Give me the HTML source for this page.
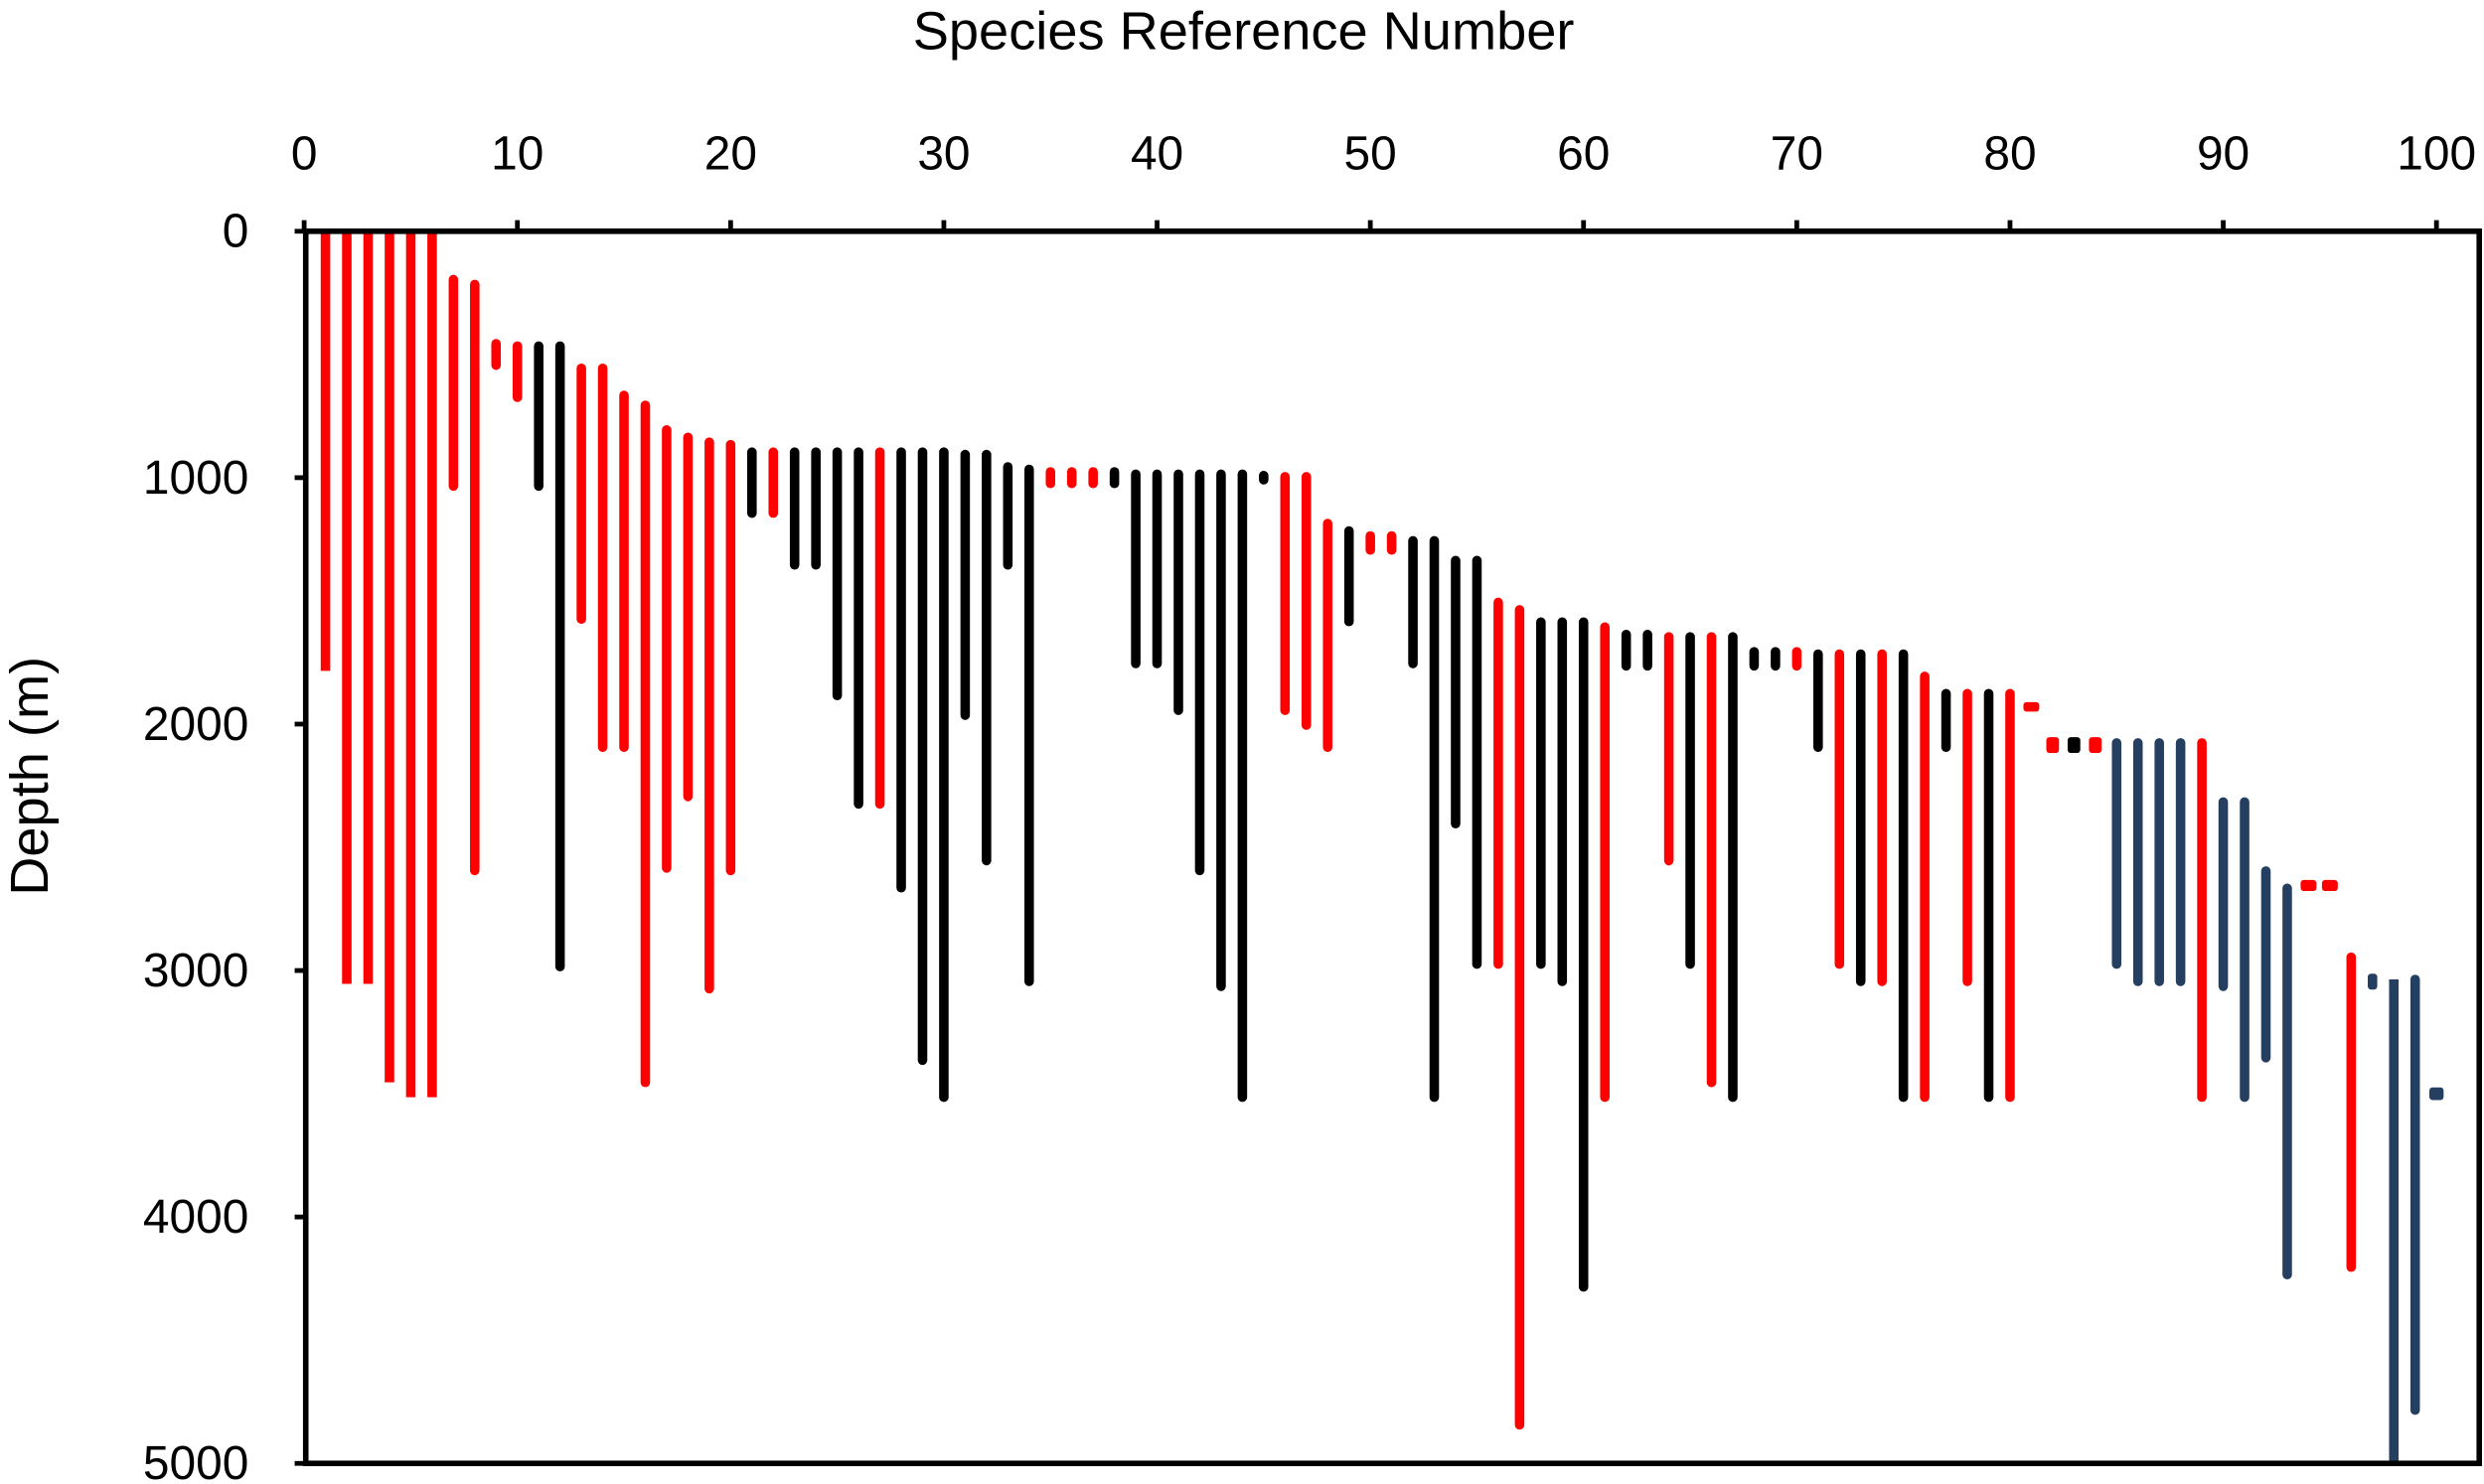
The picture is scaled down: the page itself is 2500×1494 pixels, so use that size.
<!DOCTYPE html>
<html><head><meta charset="utf-8"><style>
html,body{margin:0;padding:0;background:#fff;}
svg{display:block;}
text{font-family:"Liberation Sans",sans-serif;fill:#000;}
</style></head><body>
<svg id="s" xmlns="http://www.w3.org/2000/svg" width="2500" height="1494" viewBox="0 0 1568 937">
<rect x="0" y="0" width="1568" height="937" fill="#fff"/>
<g id="bars"></g>
<rect x="193" y="146" width="1372" height="778" fill="none" stroke="#000" stroke-width="3.5"/>
<g id="ticks" stroke="#000" stroke-width="3"></g>
<g id="labels" font-size="30"></g>
<text x="785" y="31" font-size="34" text-anchor="middle">Species Reference Number</text>
<text transform="translate(30,490) rotate(-90)" font-size="34" text-anchor="middle">Depth (m)</text>
</svg>
<script>
var R="#ff0000",K="#000000",N="#243f60";
var d=[
[1,0,1800,R],[2,0,3070,R],[3,0,3070,R],[4,0,3470,R],[5,0,3530,R],[6,0,3530,R],
[7,180,1050,R],[8,200,2610,R],[9,450,550,R],[10,450,690,R],[11,450,1050,K],[12,450,3000,K],
[13,540,1590,R],[14,540,2110,R],[15,650,2110,R],[16,690,3470,R],[17,790,2600,R],[18,820,2310,R],
[19,840,3090,R],[20,850,2610,R],[21,880,1160,K],[22,880,1160,R],[23,880,1370,K],[24,880,1370,K],
[25,880,1900,K],[26,880,2340,K],[27,880,2340,R],[28,880,2680,K],[29,880,3380,K],[30,880,3530,K],
[31,890,1980,K],[32,890,2570,K],[33,940,1370,K],[34,950,3060,K],[35,970,1030,R],[36,970,1030,R],
[37,970,1030,R],[38,970,1030,K],[39,970,1770,K],[40,970,1770,K],[41,970,1960,K],[42,970,2610,K],
[43,970,3080,K],[44,970,3530,K],[45,985,1015,K],[46,980,1960,R],[47,980,2020,R],[48,1170,2110,R],
[49,1200,1600,K],[50,1230,1300,R],[51,1230,1300,R],[52,1240,1770,K],[53,1240,3530,K],[54,1320,2420,K],
[55,1320,2990,K],[56,1490,2990,R],[57,1520,4860,R],[58,1570,2990,K],[59,1570,3060,K],[60,1570,4300,K],
[61,1590,3530,R],[62,1630,1770,K],[63,1630,1770,K],[64,1630,2570,R],[65,1630,2990,K],[66,1630,3470,R],
[67,1630,3530,K],[68,1700,1770,K],[69,1700,1770,K],[70,1700,1770,R],[71,1700,2110,K],[72,1700,2990,R],
[73,1700,3060,K],[74,1700,3060,R],[75,1700,3530,K],[76,1790,3530,R],[77,1860,2110,K],[78,1860,3060,R],
[79,1860,3530,K],[80,1860,3530,R],
[85,2060,2990,N],[86,2060,3060,N],[87,2060,3060,N],[88,2060,3060,N],[89,2060,3530,R],[90,2300,3080,N],
[91,2300,3530,N],[92,2580,3370,N],[93,2650,4250,N],[96,2930,4220,R],
[98,3020,5000,N],[99,3020,4800,N]];
// small rect markers: idx, center depth, w, h, color
var sq=[[81,1930,10,6,R],[82,2085,8,10,R],[83,2085,8,10,K],[84,2085,8,10,R],[94,2655,10,7,R],[95,2655,10,7,R],[97,3045,6,10,N],[100,3500,9,8,N]];
function X(i){return 192+13.46*i;}
function Y(v){return 146+0.1556*v;}
var ns="http://www.w3.org/2000/svg",g=document.getElementById("bars");
d.forEach(function(r){
 var l=document.createElementNS(ns,"line");
 var y1=Y(r[1]),y2=Y(r[2]);
 if(r[2]-r[1]>200){ if(r[1]>0)y1+=2.5; if(r[2]<5000)y2-=2.5; }
 else { y1+=1; y2-=1; }
 l.setAttribute("x1",X(r[0]));l.setAttribute("x2",X(r[0]));
 l.setAttribute("y1",y1);l.setAttribute("y2",y2);
 l.setAttribute("stroke",r[3]);l.setAttribute("stroke-width",6);
 l.setAttribute("stroke-linecap",r[1]==0||r[2]==5000?"butt":"round");
 g.appendChild(l);
});
sq.forEach(function(s){
 var r=document.createElementNS(ns,"rect");
 r.setAttribute("x",X(s[0])-s[2]/2);r.setAttribute("y",Y(s[1])-s[3]/2);
 r.setAttribute("width",s[2]);r.setAttribute("height",s[3]);r.setAttribute("rx",2);
 r.setAttribute("fill",s[4]);g.appendChild(r);
});
var t=document.getElementById("ticks"),lb=document.getElementById("labels");
for(var i=0;i<=100;i+=10){
 var l=document.createElementNS(ns,"line");l.setAttribute("x1",X(i));l.setAttribute("x2",X(i));
 l.setAttribute("y1",139);l.setAttribute("y2",146);t.appendChild(l);
 var tx=document.createElementNS(ns,"text");tx.setAttribute("x",X(i));tx.setAttribute("y",107);
 tx.setAttribute("text-anchor","middle");tx.textContent=i;lb.appendChild(tx);
}
for(var v=0;v<=5000;v+=1000){
 var l=document.createElementNS(ns,"line");l.setAttribute("x1",186);l.setAttribute("x2",193);
 l.setAttribute("y1",Y(v));l.setAttribute("y2",Y(v));t.appendChild(l);
 var tx=document.createElementNS(ns,"text");tx.setAttribute("x",157);tx.setAttribute("y",Y(v)+10);
 tx.setAttribute("text-anchor","end");tx.textContent=v;lb.appendChild(tx);
}
</script>
</body></html>
